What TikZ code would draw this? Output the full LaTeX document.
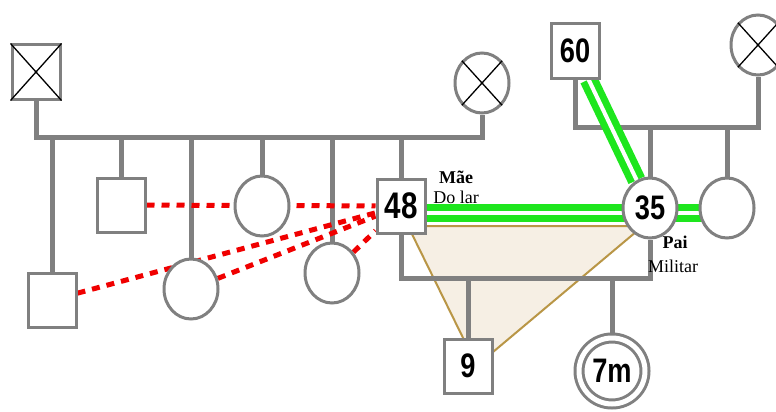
\documentclass[tikz,border=0pt]{standalone}
\usepackage{fontspec}
\setmainfont{Liberation Serif}
\newfontfamily\numfont[FakeStretch=0.8]{Liberation Sans}
\usetikzlibrary{shapes.geometric,backgrounds}

\definecolor{linegray}{RGB}{128,128,128}
\definecolor{tiegreen}{RGB}{30,230,30}
\definecolor{tiered}{RGB}{240,0,0}
\definecolor{tanline}{RGB}{185,150,70}
\definecolor{sand}{RGB}{246,239,228}

\tikzset{
  male/.style={draw=linegray, line width=3pt, fill=white, inner sep=0pt,
    minimum width=48pt, minimum height=54pt,
    font=\numfont\bfseries\fontsize{34}{36}\selectfont},
  female/.style={ellipse, draw=linegray, line width=3pt, fill=white, inner sep=0pt,
    minimum width=54pt, minimum height=60pt,
    font=\numfont\bfseries\fontsize{34}{36}\selectfont},
  kin/.style={draw=linegray, line width=5pt},
  tie/.style={draw=tiegreen, line width=7pt, double=white, double distance=4pt},
  conflict/.style={draw=tiered, line width=5pt, dash pattern=on 8pt off 7pt},
  cross/.style={draw=black, line width=1.3pt},
  note/.style={font=\fontsize{18}{18}\selectfont, inner sep=0pt}
}

\begin{document}
\begin{tikzpicture}[x=1pt, y=-1pt]
    \useasboundingbox (0, 0) rectangle (776, 412);

    \coordinate (bar1) at (0, 137);
    \coordinate (bar2) at (0, 278);
    \coordinate (bar3) at (0, 127);

    \node[male] (gf1) at (36, 72) {};
    \node[female] (gm1) at (482, 83) {};
    \draw[cross] (gf1.north west) -- (gf1.south east) (gf1.north east) -- (gf1.south west);
    \draw[cross] (gm1.north west) -- (gm1.south east) (gm1.north east) -- (gm1.south west);

    \node[male] (s1) at (52, 300) {};
    \node[male] (s2) at (121, 205) {};
    \node[female] (s3) at (191, 289) {};
    \node[female] (s4) at (262, 206) {};
    \node[female] (s5) at (332, 273) {};
    \node[male, font=\numfont\bfseries\fontsize{37}{38}\selectfont] (mae) at (401, 206) {48};

    \node[male] (gm2) at (575, 51) {60};
    \node[female] (gf2) at (758, 45) {};
    \draw[cross] (gf2.north west) -- (gf2.south east) (gf2.north east) -- (gf2.south west);

    \node[female] (pai) at (650, 208) {35};
    \node[female] (tia) at (727, 208) {};

    \node[male] (filho) at (468, 366) {9};
    \node[circle, draw=linegray, line width=3pt, double=white, double distance=5pt,
      fill=white, inner sep=0pt, minimum size=66pt,
      font=\numfont\bfseries\fontsize{34}{36}\selectfont] (bebe) at (612, 371) {7m};

    \node[note, font=\bfseries\fontsize{18}{18}\selectfont] (maename) at (456, 177) {Mãe};
    \node[note] (maejob) at (456, 197) {Do lar};
    \node[note, font=\bfseries\fontsize{18}{18}\selectfont] (painame) at (675, 242) {Pai};
    \node[note] (paijob) at (673, 266) {Militar};

    \begin{pgfonlayer}{background}
      \fill[white] (0, 0) rectangle (776, 412);

      \filldraw[fill=sand, draw=tanline, line width=2pt, line join=round]
        (408, 226) -- (643, 226) -- (493, 352) -- (470, 352) -- cycle;

      \draw[kin] (gf1.south) -- (gf1.south |- bar1) -- (gm1.south |- bar1) -- (gm1.south);
      \foreach \k in {s1, s2, s3, s4, s5, mae}
        \draw[kin] (\k.north) -- (\k.north |- bar1);

      \draw[kin] (gm2.south) -- (gm2.south |- bar3) -- (gf2.south |- bar3) -- (gf2.south);
      \foreach \k in {pai, tia}
        \draw[kin] (\k.north) -- (\k.north |- bar3);

      \draw[kin] (mae.south) -- (mae.south |- bar2) -- (pai.south |- bar2) -- (pai.south);
      \foreach \k in {filho, bebe}
        \draw[kin] (\k.north) -- (\k.north |- bar2);

      \foreach \k in {s2, s1, s3, s5}
        \draw[conflict] (\k) -- (mae);

      \draw[tie] ([yshift=-7pt]mae.east) -- ([yshift=-7pt]mae.east -| pai.center);
      \draw[tie] ([yshift=-5pt]pai.center) -- ([yshift=-5pt]pai.center -| tia.center);
      \draw[tie] (gm2) -- (pai);
    \end{pgfonlayer}
\end{tikzpicture}
\end{document}
